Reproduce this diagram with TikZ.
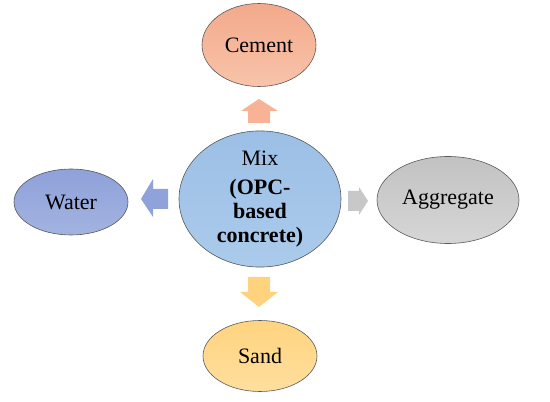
\documentclass[tikz,border=0pt]{standalone}
\usepackage{fontspec}
\setmainfont{Liberation Serif}
\newfontfamily\tnr{Liberation Serif}
\usetikzlibrary{shapes.geometric}
\definecolor{cemTop}{HTML}{F3A98B}
\definecolor{cemBot}{HTML}{F8C4AA}
\definecolor{mixTop}{HTML}{9CBFE6}
\definecolor{mixBot}{HTML}{ABCBEB}
\definecolor{watTop}{HTML}{8EA1D9}
\definecolor{watBot}{HTML}{A3B3E0}
\definecolor{aggTop}{HTML}{C2C2C2}
\definecolor{aggBot}{HTML}{D6D6D6}
\definecolor{sanTop}{HTML}{FFD47F}
\definecolor{sanBot}{HTML}{FFDE9E}
\definecolor{arUp}{HTML}{F8B396}
\definecolor{arLeft}{HTML}{8FA3DA}
\definecolor{arRight}{HTML}{C8C8C8}
\definecolor{arDown}{HTML}{FFD37E}
\tikzset{
  blob/.style={ellipse, draw=black!65, line width=0.6pt, inner sep=0pt,
    font=\tnr\fontsize{22}{24}\selectfont, align=center}
}
\begin{document}
\begin{tikzpicture}[x=1pt,y=1pt]
\useasboundingbox (0,0) rectangle (550,402);
% ellipses
\node[blob, top color=cemTop, bottom color=cemBot, minimum width=114, minimum height=83] (cement) at (259,357) {Cement};
\node[blob, top color=mixTop, bottom color=mixBot, minimum width=162, minimum height=130] (mix) at (260,203)
  {Mix\\[5pt]\textbf{(OPC-}\\\textbf{based}\\\textbf{concrete)}};
\node[blob, top color=watTop, bottom color=watBot, minimum width=114, minimum height=66] (water) at (71,200) {Water};
\node[blob, top color=aggTop, bottom color=aggBot, minimum width=142, minimum height=87] (agg) at (448,202) {Aggregate};
\node[blob, top color=sanTop, bottom color=sanBot, minimum width=114, minimum height=71] (sand) at (260,46) {Sand};
% block arrows
\fill[arUp] (248,279) -- (248,291) -- (241,291) -- (259,303) -- (278,291) -- (270,291) -- (270,279) -- cycle;
\fill[arLeft] (168,193) -- (153,193) -- (153,185) -- (141,203) -- (153,223) -- (153,213) -- (168,213) -- cycle;
\fill[arRight] (348,191) -- (359,191) -- (359,187) -- (368,201) -- (359,215) -- (359,211) -- (348,211) -- cycle;
\fill[arDown] (248,125) -- (248,110) -- (240,110) -- (259,95) -- (278,110) -- (270,110) -- (270,125) -- cycle;
\end{tikzpicture}
\end{document}
